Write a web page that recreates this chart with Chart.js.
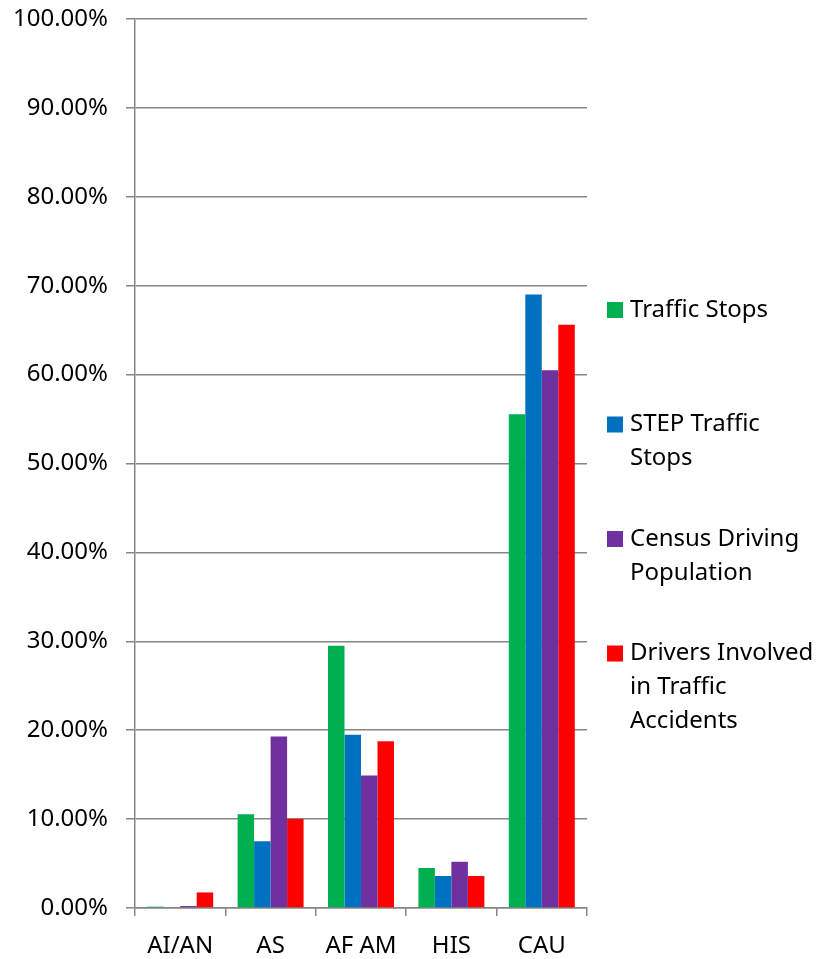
<!DOCTYPE html>
<html>
<head>
<meta charset="utf-8">
<script src="https://cdn.jsdelivr.net/npm/chart.js@4.4.0/dist/chart.umd.min.js"></script>
<style>
  html, body { margin: 0; padding: 0; background: #fff; }
  #wrap { width: 817px; height: 959px; }
</style>
</head>
<body>
<div id="wrap"><canvas id="chart" width="817" height="959"></canvas></div>
<script>
const categories = ['AI/AN', 'AS', 'AF AM', 'HIS', 'CAU'];
const trafficStops = [0.15, 10.55, 29.5, 4.5, 55.55];
const stepTrafficStops = [0.0, 7.5, 19.5, 3.6, 69.0];
const censusDriving = [0.22, 19.3, 14.9, 5.2, 60.5];
const driversAccidents = [1.75, 10.0, 18.75, 3.6, 65.6];
const seriesNames = ['Traffic Stops', 'STEP Traffic Stops', 'Census Driving Population', 'Drivers Involved in Traffic Accidents'];
const legendLines = [['Traffic Stops'], ['STEP Traffic', 'Stops'], ['Census Driving', 'Population'], ['Drivers Involved', 'in Traffic', 'Accidents']];
const colors = ['#00B050', '#0070C0', '#7030A0', '#FF0000'];
const yTicks = [0, 10, 20, 30, 40, 50, 60, 70, 80, 90, 100];

const FONT = '"Noto Sans", sans-serif';

// legend drawn to the right, with wrapped lines like the original
const sideLegend = {
    id: 'sideLegend',
    afterDraw(chart) {
        const ctx = chart.ctx;
        ctx.save();
        ctx.font = '24px ' + FONT;
        ctx.textBaseline = 'middle';
        ctx.textAlign = 'left';
        legendLines.forEach((lines, i) => {
            const y0 = 310 + i * 114.5;
            ctx.fillStyle = colors[i];
            ctx.fillRect(607, y0 - 8, 16, 16);
            ctx.fillStyle = '#000';
            lines.forEach((line, j) => {
                ctx.fillText(line, 630, y0 + j * 34);
            });
        });
        ctx.restore();
    }
};

const datasets = [trafficStops, stepTrafficStops, censusDriving, driversAccidents].map((data, i) => ({
    label: seriesNames[i],
    data: data,
    backgroundColor: colors[i],
    borderWidth: 0,
    categoryPercentage: 0.73,
    barPercentage: 1.0
}));

new Chart(document.getElementById('chart').getContext('2d'), {
    type: 'bar',
    data: { labels: categories, datasets: datasets },
    options: {
        responsive: false,
        animation: false,
        layout: { padding: { top: 19, right: 230, left: 0, bottom: 0 } },
        plugins: {
            legend: { display: false },
            tooltip: { enabled: false }
        },
        scales: {
            x: {
                grid: {
                    offset: true,
                    drawOnChartArea: false,
                    drawTicks: true,
                    tickLength: 8,
                    color: '#868686',
                    lineWidth: 1.5
                },
                border: { color: '#868686', width: 1.5 },
                ticks: {
                    color: '#000',
                    font: { family: FONT, size: 24 },
                    padding: 16
                },
                afterFit: s => { s.height = 51; s.paddingLeft = 0; s.paddingRight = 0; }
            },
            y: {
                min: 0,
                max: 100,
                afterBuildTicks: s => { s.ticks = yTicks.map(v => ({ value: v })); },
                grid: {
                    color: '#868686',
                    lineWidth: 1.5,
                    tickLength: 9
                },
                border: { color: '#868686', width: 1.5 },
                ticks: {
                    color: '#000',
                    font: { family: FONT, size: 24 },
                    padding: 18,
                    callback: v => v.toFixed(2) + '%'
                },
                afterFit: s => { s.width = 135; s.paddingTop = 0; s.paddingBottom = 0; }
            }
        }
    },
    plugins: [sideLegend]
});
</script>
</body>
</html>
